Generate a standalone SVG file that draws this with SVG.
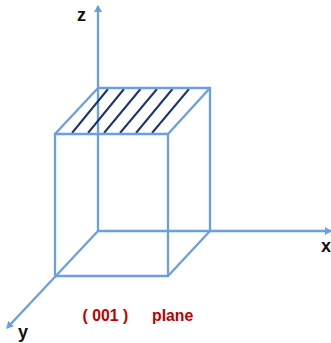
<svg xmlns="http://www.w3.org/2000/svg" width="331" height="343" viewBox="0 0 331 343">
<style>
.l{fill:none;stroke:#6a9fe0;stroke-width:2.3}
.a{fill:none;stroke:#6a9fe0;stroke-width:2.3}
.h{fill:none;stroke:#1c3570;stroke-width:2}
.b{font-family:"Liberation Sans",Arial,sans-serif;font-weight:700;fill:#111;font-size:18px}
.r{font-family:"Liberation Sans",Arial,sans-serif;font-weight:700;fill:#c00000;font-size:15.8px}
</style>
<defs><marker id="m" markerUnits="userSpaceOnUse" markerWidth="7" markerHeight="8" refX="6" refY="4" orient="auto"><path d="M0 0L7 4L0 8Z" fill="#6a9fe0"/></marker></defs>
<rect width="331" height="343" fill="#fff"/>
<g id="connectors">
<path class="a" d="M98 231V6" marker-end="url(#m)"/>
<path class="a" d="M98 231H331" marker-end="url(#m)"/>
<path class="a" d="M98 231L7 328" marker-end="url(#m)"/>
</g>
<g id="hatching">
<path class="h" d="M108 89L72 133M124 89L88 133M140.500 89L104 133M157 89L120 133M172.500 89L136 133M189 89L152 133"/>
</g>
<g id="cuboid">
<path class="l" d="M55 134H168V276H55ZM98 88H210V231M55 134L98 88M168 134L210 88M168 276L210 231"/>
</g>
<g id="labels">
<text class="b" x="77" y="21">z</text>
<text class="b" x="321" y="252">x</text>
<text class="b" x="18" y="338">y</text>
<text class="r" x="82.500" y="321">( 001 )</text>
<text class="r" x="152" y="321">plane</text>
</g>
</svg>
